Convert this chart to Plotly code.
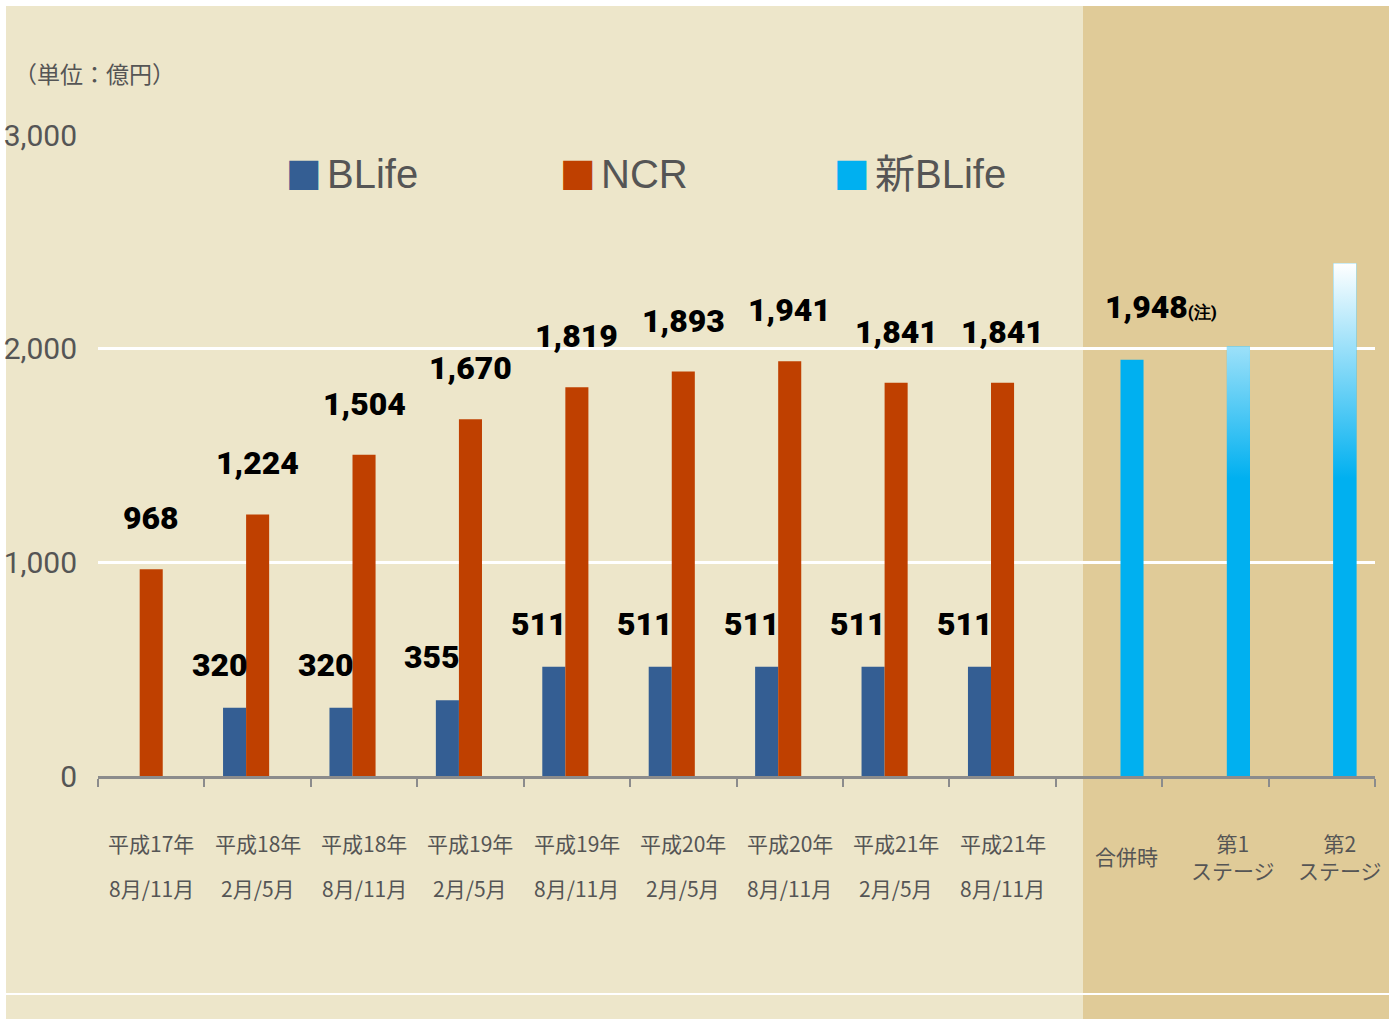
import plotly.graph_objects as go

# ---------------- data ----------------
cat_line1 = ["平成17年", "平成18年", "平成18年", "平成19年", "平成19年", "平成20年",
             "平成20年", "平成21年", "平成21年"]
cat_line2 = ["8月/11月", "2月/5月", "8月/11月", "2月/5月", "8月/11月", "2月/5月",
             "8月/11月", "2月/5月", "8月/11月"]
stage_labels = ["合併時", "第1<br>ステージ", "第2<br>ステージ"]

blife = [None, 320, 320, 355, 511, 511, 511, 511, 511, None, None, None]
ncr = [968, 1224, 1504, 1670, 1819, 1893, 1941, 1841, 1841, None, None, None]
new_blife = [None] * 9 + [1948, 2010, 2400]
new_notes = [""] * 9 + ["(注)", None, None]      # None -> no label
gradient_bars = [False] * 9 + [False, True, True]

series_names = ["BLife", "NCR", "新BLife"]
yticks = [0, 1000, 2000, 3000]

# ---------------- style ----------------
C_BLUE = "#345E93"
C_ORANGE = "#BF4000"
C_CYAN = "#00B0F0"
BG = "#EDE6CA"
PANEL = "#E0CB98"
GREY_TXT = "#555555"
AX_GREY = "#8C8C8C"
NUM_FONT = "Roboto, DejaVu Sans Condensed, sans-serif"
JP_FONT = "Noto Sans CJK JP, sans-serif"

W, H = 1389, 1019
L, R, T, B = 98, 1375, 135, 776
BARGAP = 0.35
N = len(ncr)
slot = (1 - BARGAP) / 3


def px(x):
    return (x - L) / (R - L)


def py(y):
    return (B - y) / (B - T)


xs = list(range(N))
fig = go.Figure()
fig.add_bar(x=xs, y=blife, name=series_names[0], marker=dict(color=C_BLUE, line=dict(width=0)), showlegend=False)
fig.add_bar(x=xs, y=ncr, name=series_names[1], marker=dict(color=C_ORANGE, line=dict(width=0)), showlegend=False)
fig.add_bar(x=xs, y=new_blife, name=series_names[2], marker=dict(color=C_CYAN, line=dict(width=0)), showlegend=False)

# gradient overlays for the staged bars (positioned in the third slot of the group)
vmax = max(v for v in new_blife if v is not None)
for i, (v, g) in enumerate(zip(new_blife, gradient_bars)):
    if v is None or not g:
        continue
    x0, x1 = i + slot / 2, i + 3 * slot / 2
    fig.add_scatter(
        x=[x0, x1, x1, x0, x0], y=[0, 0, v, v, 0], mode="lines", line=dict(width=0),
        fill="toself",
        fillgradient=dict(type="vertical", start=0, stop=vmax,
                          colorscale=[[0, C_CYAN], [0.58, C_CYAN], [1, "#FFFFFF"]]),
        showlegend=False, hoverinfo="skip")

ann = []
lab_font = dict(family=NUM_FONT, size=32, color="#000000", weight=900)
for i, v in enumerate(ncr):
    if v is not None:
        ann.append(dict(x=i, y=v, text=f"{v:,}", showarrow=False, yanchor="middle",
                        yshift=51, font=lab_font))
for i, v in enumerate(blife):
    if v is not None:
        ann.append(dict(x=i, y=v, text=f"{v:,}", showarrow=False, yanchor="middle",
                        xshift=-38, yshift=43, font=lab_font))
for i, (v, note) in enumerate(zip(new_blife, new_notes)):
    if v is not None and note is not None:
        ann.append(dict(x=i, y=v, text=f"{v:,}<span style='font-size:17px'>{note}</span>",
                        showarrow=False, yanchor="middle", xanchor="left", xshift=-6, yshift=53,
                        font=lab_font))

# category labels
for i, (a, b) in enumerate(zip(cat_line1, cat_line2)):
    for txt, dy in ((a, -67), (b, -112)):
        ann.append(dict(x=i, xref="x", y=0, yref="paper", text=txt, showarrow=False,
                        yanchor="middle", yshift=dy, font=dict(family=JP_FONT, size=21, color=GREY_TXT)))
for k, txt in enumerate(stage_labels):
    i = len(cat_line1) + k
    ann.append(dict(x=i, xref="x", y=0, yref="paper", text=txt, showarrow=False,
                    yanchor="middle", yshift=-80, xshift=18,
                    font=dict(family=JP_FONT, size=21, color=GREY_TXT)))

# unit label
ann.append(dict(x=px(12), y=py(73), xref="paper", yref="paper", xanchor="left", yanchor="middle",
                text="（単位：億円）", showarrow=False, font=dict(family=JP_FONT, size=23, color=GREY_TXT)))

# legend (text-based)
for (sx, tx), name, col in zip(((284, 325), (558, 599), (832, 873)), series_names, (C_BLUE, C_ORANGE, C_CYAN)):
    ann.append(dict(x=px(sx), y=py(172), xref="paper", yref="paper", xanchor="left", yanchor="middle",
                    text="■", showarrow=False, font=dict(family="DejaVu Sans", size=38, color=col)))
    ann.append(dict(x=px(tx), y=py(174), xref="paper", yref="paper", xanchor="left", yanchor="middle",
                    text=name, showarrow=False,
                    font=dict(family="Liberation Sans, Noto Sans CJK JP, sans-serif", size=40, color=GREY_TXT)))

shapes = [
    dict(type="rect", xref="paper", yref="paper", x0=px(6), x1=px(W + 2), y0=py(H + 2), y1=py(6),
         fillcolor=BG, line=dict(width=0), layer="below"),
    dict(type="rect", xref="paper", yref="paper", x0=px(1083), x1=px(W + 2), y0=py(H + 2), y1=py(6),
         fillcolor=PANEL, line=dict(width=0), layer="below"),
    dict(type="line", xref="paper", yref="paper", x0=px(6), x1=px(W + 2), y0=py(994), y1=py(994),
         line=dict(color="#FFFFFF", width=2), layer="below"),
]

fig.update_layout(
    width=W, height=H, margin=dict(l=L, r=W - R, t=T, b=H - B, autoexpand=False),
    paper_bgcolor="#FFFFFF", plot_bgcolor="rgba(0,0,0,0)",
    barmode="group", bargap=BARGAP, bargroupgap=0,
    showlegend=False, annotations=ann, shapes=shapes,
    xaxis=dict(range=[-0.5, N - 0.5], tickvals=[i - 0.5 for i in range(N + 1)], showticklabels=False,
               ticks="outside", ticklen=8, tickwidth=2, tickcolor=AX_GREY, automargin=False,
               showline=True, linecolor=AX_GREY, linewidth=3, showgrid=False, zeroline=False),
    yaxis=dict(range=[0, 3000], tickvals=yticks, ticktext=[f"{v:,}" for v in yticks],
               showgrid=True, gridcolor="#FFFFFF", gridwidth=3, zeroline=False, showline=False,
               ticks="", ticklabelstandoff=20, automargin=False,
               tickfont=dict(family="Roboto, sans-serif", size=30, color=GREY_TXT)),
)

fig.write_html("out.html", config={"displayModeBar": False},
               post_script="document.body.style.margin='0';")
